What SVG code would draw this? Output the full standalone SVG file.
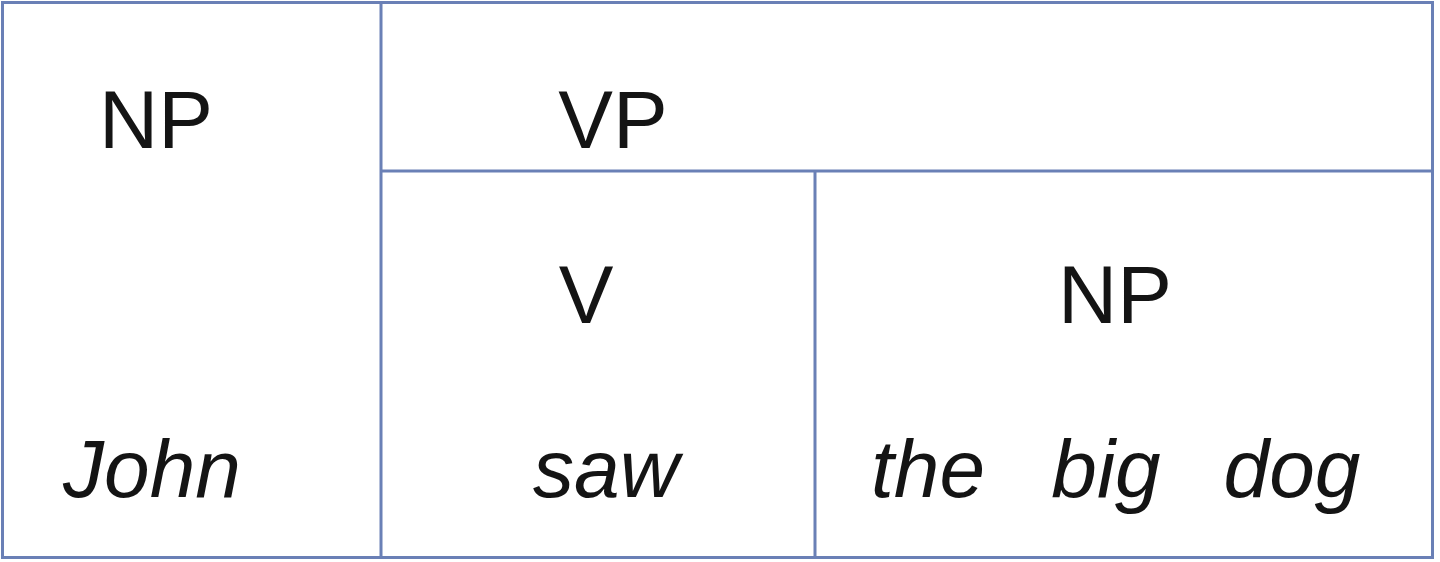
<svg xmlns="http://www.w3.org/2000/svg" width="1440" height="562" viewBox="0 0 1440 562">
<style>
.ln{stroke:#6a80b6;stroke-width:3;fill:none}
.lb{font-family:"Liberation Sans",Arial,sans-serif;font-size:82px;fill:#141414;text-anchor:middle}
.it{font-style:italic}
</style>
<rect x="0" y="0" width="1440" height="562" fill="#ffffff"/>
<g id="connectors">
<rect class="ln" x="2.5" y="2.5" width="1430" height="555"/>
<line class="ln" x1="381" y1="2.5" x2="381" y2="557.5"/>
<line class="ln" x1="381" y1="171" x2="1432.5" y2="171"/>
<line class="ln" x1="815" y1="171" x2="815" y2="557.5"/>
</g>
<g id="np-subject">
<text class="lb" x="156" y="148">NP</text>
<text class="lb it" x="152" y="497">John</text>
</g>
<g id="vp">
<text class="lb" x="613" y="148">VP</text>
</g>
<g id="v">
<text class="lb" x="586" y="323">V</text>
<text class="lb it" x="606" y="497">saw</text>
</g>
<g id="np-object">
<text class="lb" x="1115" y="323">NP</text>
<text class="lb it" x="928" y="497">the</text>
<text class="lb it" x="1106" y="497">big</text>
<text class="lb it" x="1292" y="497">dog</text>
</g>
</svg>
